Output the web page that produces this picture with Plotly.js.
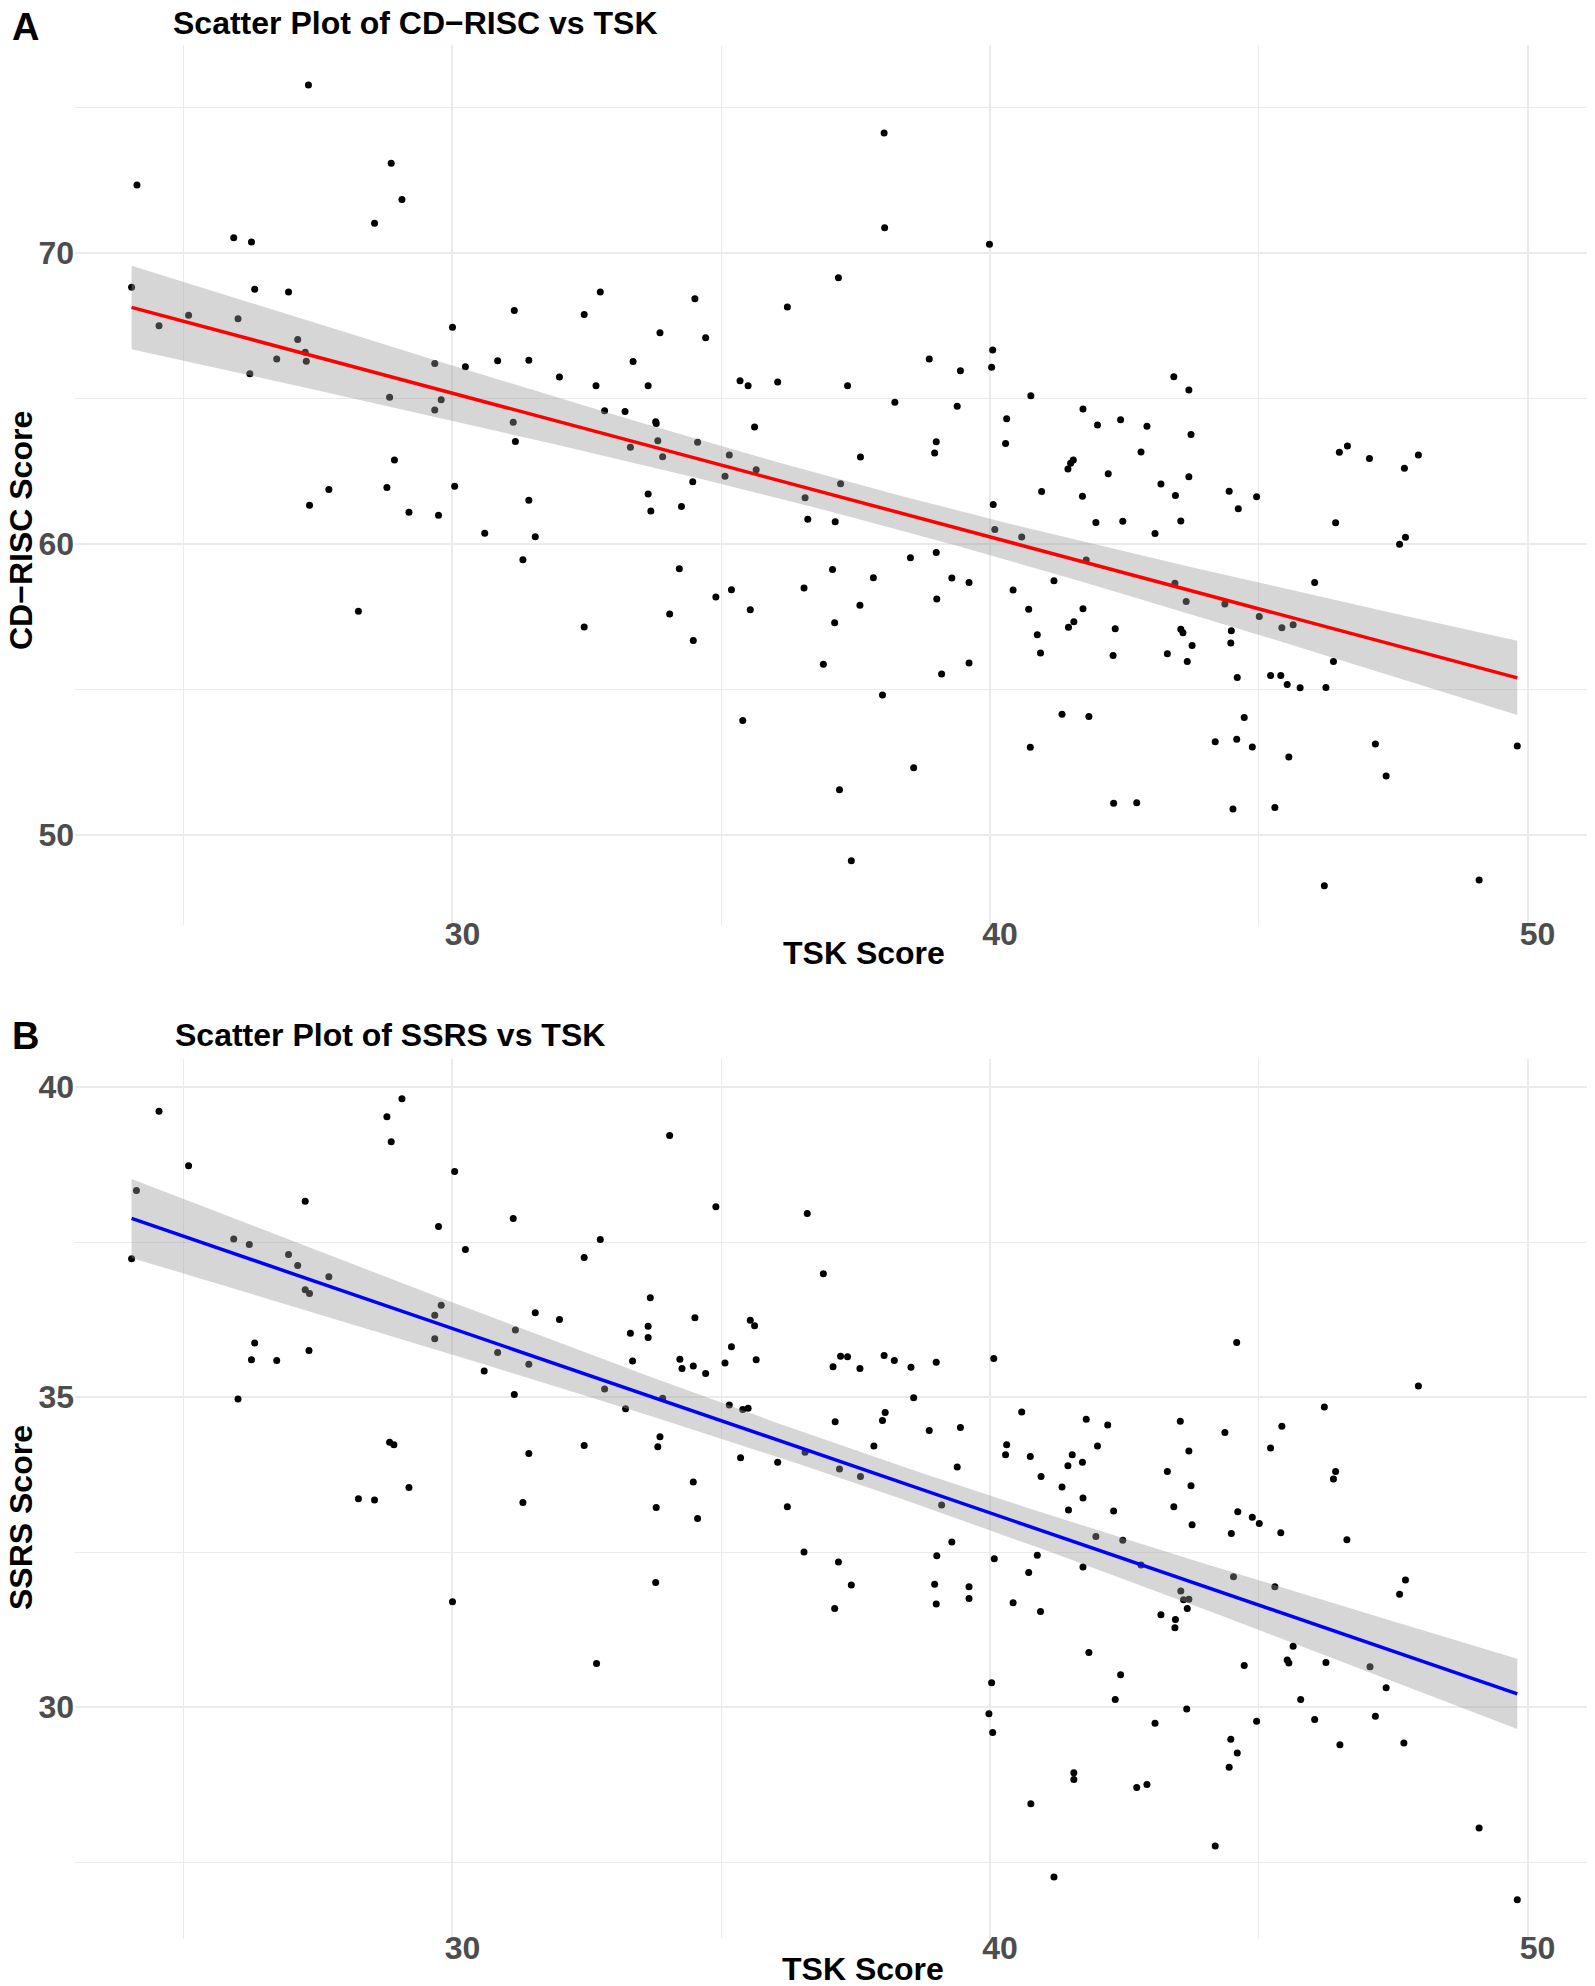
<!DOCTYPE html>
<html>
<head>
<meta charset="utf-8">
<script src="https://cdn.plot.ly/plotly-3.0.1.min.js"></script>
<style>html,body{margin:0;padding:0;background:#fff;}</style>
</head>
<body>
<div id="chart" style="width:1595px;height:1986px;"></div>
<script>
// ---------- Panel A data: TSK vs CD-RISC ----------
const tskA = [
27.32,24.13,28.86,29.06,28.55,25.93,26.26,24.03,26.32,26.95,25.09,26.01,24.54,27.12,27.26,26.73,27.28,26.23,
30.00,29.67,30.24,30.84,31.42,31.15,32.75,32.45,31.99,33.36,32.67,33.64,33.86,34.51,34.71,36.23,35.35,35.50,36.05,
28.83,29.79,29.67,32.83,33.21,31.13,31.17,33.78,33.79,33.82,34.56,33.31,33.91,35.62,35.15,35.65,35.07,34.47,
28.92,27.70,28.78,30.04,33.64,31.42,
27.34,29.19,29.74,30.60,31.54,31.31,28.25,33.69,34.26,32.45,34.22,34.90,35.19,34.04,35.54,34.48,35.40,
38.03,38.04,39.99,37.18,40.05,40.03,38.87,39.45,37.35,38.23,39.39,40.76,40.31,41.73,42.00,42.43,42.92,43.42,43.70,
43.74,40.29,39.00,38.97,37.59,42.81,41.55,41.50,41.45,42.20,43.18,43.45,43.70,44.45,44.96,40.96,41.72,46.50,46.65,
47.06,47.71,47.97,37.22,36.56,
36.61,37.12,44.62,40.06,40.09,40.59,41.97,42.47,43.55,43.07,46.43,47.62,47.73,41.79,36.54,37.07,37.83,38.52,39.00,
39.29,39.61,39.01,37.58,37.11,36.90,38.00,39.10,39.61,37.20,37.42,38.58,40.43,40.72,41.19,41.73,40.88,40.94,41.46,
41.56,42.33,42.29,43.44,43.65,43.55,43.59,43.76,43.30,43.67,44.37,44.49,44.48,45.01,45.43,45.64,46.04,46.39,44.60,
45.22,45.41,45.53,45.77,46.25,41.34,41.84,40.75,44.73,44.19,44.59,44.88,45.56,47.17,47.37,49.81,42.30,42.73,44.52,
45.30,46.22,49.10
];
const cdrisc = [
75.77,72.34,73.08,71.84,71.02,70.52,70.38,68.82,68.75,68.66,67.86,67.74,67.50,67.03,66.59,66.36,66.28,65.85,
67.45,66.20,66.09,66.30,66.31,68.02,68.66,67.89,65.74,66.27,65.44,65.44,67.26,68.43,67.09,68.14,65.61,65.44,65.57,
65.04,64.96,64.60,64.58,64.55,64.18,63.52,64.20,64.14,63.55,63.50,63.32,63.00,64.02,63.06,62.55,62.33,62.14,
62.89,61.87,61.94,61.98,61.72,61.50,
61.33,61.09,60.99,60.37,60.25,59.46,57.69,61.13,61.29,57.15,59.15,58.18,58.43,57.59,57.74,56.68,53.93,
74.12,70.87,70.30,69.15,66.67,66.07,66.36,65.95,65.44,64.87,64.73,65.09,64.30,64.64,64.09,64.27,64.05,65.75,65.29,
63.76,63.45,63.51,63.13,62.99,63.16,62.89,62.77,62.58,62.41,62.06,61.67,62.31,61.81,61.62,61.80,61.64,63.15,63.37,
62.94,62.60,63.06,62.07,61.59,
60.85,60.76,61.21,61.36,60.50,60.24,60.74,60.78,60.79,60.36,60.73,59.99,60.23,59.45,58.49,59.12,58.84,59.53,59.71,
58.83,58.68,58.11,57.89,57.29,55.87,54.81,55.53,55.91,51.55,49.11,52.31,58.42,57.76,58.74,57.77,56.88,56.25,57.14,
57.33,57.09,56.17,58.65,58.02,57.07,56.95,56.51,56.23,55.96,57.94,57.02,56.60,57.51,57.12,57.22,58.68,55.96,55.41,
55.48,55.48,55.17,55.06,55.07,54.15,54.07,53.01,54.04,53.20,53.29,53.02,52.68,53.13,52.03,53.06,51.09,51.11,50.89,
50.94,48.25,48.45
];

// ---------- Panel B data: TSK vs SSRS ----------
const tskB = [
24.54,24.12,24.03,25.09,28.78,29.06,28.86,30.04,27.26,29.74,31.13,34.04,34.90,25.93,26.22,26.95,27.12,27.70,27.26,
27.34,30.24,32.75,32.45,29.79,29.67,29.67,31.54,31.99,31.17,30.84,31.42,30.59,31.15,32.83,33.68,33.64,33.64,33.31,
33.35,34.51,34.23,34.27,34.48,34.71,35.07,35.19,35.54,35.62,35.65,33.91,33.22,35.15,35.40,35.50,26.32,26.26,26.73,
27.33,26.01,28.83,28.91,32.45,31.42,33.86,33.82,35.36,36.05,34.48,29.19,
28.25,28.55,31.31,33.79,34.56,36.23,33.78,30.00,32.68,
36.60,36.90,44.59,37.22,37.35,37.08,37.58,38.03,38.22,38.53,39.00,40.07,38.58,47.97,37.12,38.05,38.00,38.87,39.45,
40.59,41.79,42.19,43.54,44.37,45.43,46.22,36.56,37.84,37.20,37.59,39.39,40.31,40.29,40.75,40.95,41.34,41.45,41.53,
41.72,42.00,43.30,43.70,43.74,45.22,46.43,46.39,
41.73,41.46,42.30,43.42,44.61,44.88,45.01,43.76,44.49,45.41,46.64,39.10,41.97,42.47,42.81,36.54,37.18,37.42,37.11,
39.01,39.29,38.97,39.00,39.61,39.61,40.08,40.88,40.72,40.43,40.94,41.73,44.53,45.30,43.55,43.60,43.70,43.67,43.18,
43.45,43.44,47.73,47.62,45.64,45.53,45.56,46.25,47.07,47.37,44.73,41.84,42.43,42.33,40.03,39.98,40.05,43.66,43.07,
44.96,45.78,46.04,46.51,47.17,47.70,44.48,44.60,44.45,41.56,41.56,42.73,42.92,40.76,44.19,41.19,49.10,49.81
];
const ssrs = [
39.61,38.33,37.23,38.73,39.52,39.81,39.12,38.64,38.16,37.75,37.88,39.22,38.07,37.55,37.46,37.30,37.12,36.94,36.73,
36.67,37.38,37.54,37.25,36.48,36.32,35.94,36.36,36.25,36.08,35.72,35.53,35.42,35.04,35.13,36.60,36.14,35.96,36.03,
35.58,36.28,35.61,35.46,35.50,35.38,35.55,35.81,36.24,36.15,35.60,34.98,34.81,34.87,34.80,34.82,35.87,35.60,35.59,
35.75,34.97,34.27,34.23,34.22,34.09,34.36,34.20,34.02,33.95,33.63,33.54,
33.36,33.34,33.30,33.22,33.04,33.23,32.01,31.70,30.70,
37.96,36.99,35.88,35.66,35.65,35.49,35.46,35.67,35.59,35.48,35.56,35.62,34.99,35.18,34.60,34.75,34.62,34.46,34.51,
34.76,34.64,34.55,34.61,34.43,34.53,34.84,34.11,34.21,33.84,33.72,33.87,34.23,34.07,34.04,33.72,33.55,33.89,34.07,
33.95,34.21,33.80,34.13,33.57,34.18,33.80,33.68,
33.37,33.18,33.16,33.23,33.15,33.06,32.96,32.94,32.80,32.81,32.70,33.26,32.75,32.69,32.29,32.50,32.34,31.97,31.59,
32.44,32.66,31.98,31.66,31.94,31.75,32.39,32.45,32.17,31.68,31.54,32.26,32.10,31.94,31.87,31.73,31.74,31.59,31.49,
31.41,31.28,32.05,31.82,30.98,30.76,30.71,30.72,30.65,30.31,30.67,30.88,30.52,30.12,30.39,29.89,29.59,29.97,29.74,
29.77,30.12,29.80,29.39,29.85,29.42,29.48,29.26,29.03,28.94,28.83,28.70,28.75,28.44,27.76,27.26,28.05,26.89
];

// ---------- Text ----------
const titleA = 'Scatter Plot of CD\u2212RISC vs TSK';
const titleB = 'Scatter Plot of SSRS vs TSK';
const xTitle = 'TSK Score';
const yTitleA = 'CD\u2212RISC Score';
const yTitleB = 'SSRS Score';

// ---------- linear model with 95% confidence band (as geom_smooth(method = "lm")) ----------
function lmBand(x, y) {
  const n = x.length;
  const xm = x.reduce((a, b) => a + b, 0) / n;
  const ym = y.reduce((a, b) => a + b, 0) / n;
  let sxx = 0, sxy = 0;
  for (let i = 0; i < n; i++) { sxx += (x[i] - xm) ** 2; sxy += (x[i] - xm) * (y[i] - ym); }
  const b = sxy / sxx, a = ym - b * xm;
  let sse = 0;
  for (let i = 0; i < n; i++) sse += (y[i] - a - b * x[i]) ** 2;
  const s = Math.sqrt(sse / (n - 2));
  const t = 1.972;
  const lo = Math.min(...x), hi = Math.max(...x);
  const xs = [], fit = [], up = [], dn = [];
  for (let k = 0; k < 80; k++) {
    const xv = lo + (hi - lo) * k / 79;
    const f = a + b * xv;
    const se = s * Math.sqrt(1 / n + (xv - xm) ** 2 / sxx);
    xs.push(xv); fit.push(f); up.push(f + t * se); dn.push(f - t * se);
  }
  return { xs, fit, up, dn };
}

const FONT = 'Liberation Sans, Arial, Helvetica, sans-serif';

function panelTraces(x, y, color, xa, ya) {
  const m = lmBand(x, y);
  return [
    { type: 'scatter', mode: 'markers', x: x, y: y, xaxis: xa, yaxis: ya,
      marker: { size: 7, color: '#000000' }, hoverinfo: 'skip', showlegend: false },
    { type: 'scatter', mode: 'lines', x: m.xs.concat(m.xs.slice().reverse()),
      y: m.up.concat(m.dn.slice().reverse()), xaxis: xa, yaxis: ya,
      fill: 'toself', fillcolor: 'rgba(153,153,153,0.4)', line: { width: 0 },
      hoverinfo: 'skip', showlegend: false },
    { type: 'scatter', mode: 'lines', x: m.xs, y: m.fit, xaxis: xa, yaxis: ya,
      line: { color: color, width: 3.5 }, hoverinfo: 'skip', showlegend: false }
  ];
}

const data = panelTraces(tskA, cdrisc, '#FF0000', 'x', 'y')
  .concat(panelTraces(tskB, ssrs, '#0000FF', 'x2', 'y2'));

const tickFont = { family: FONT, size: 32, color: '#4D4D4D', weight: 'bold' };
const axTitleFont = { family: FONT, size: 32, color: '#000000', weight: 'bold' };

function xAxis(anchor) {
  return {
    anchor: anchor, domain: [0, 1], range: [22.977, 51.107],
    tick0: 0, dtick: 10, ticks: '', showline: false, zeroline: false,
    showgrid: true, gridcolor: '#EBEBEB', gridwidth: 2,
    minor: { tick0: 0, dtick: 5, showgrid: true, gridcolor: '#EBEBEB', gridwidth: 1 },
    tickfont: tickFont, ticklabelshift: 10, ticklabelstandoff: -13,
    automargin: false
  };
}
function yAxis(anchor, domain, range, dtick) {
  return {
    anchor: anchor, domain: domain, range: range,
    tick0: 0, dtick: dtick, ticks: '', showline: false, zeroline: false,
    showgrid: true, gridcolor: '#EBEBEB', gridwidth: 2,
    minor: { tick0: 0, dtick: dtick / 2, showgrid: true, gridcolor: '#EBEBEB', gridwidth: 1 },
    tickfont: tickFont, automargin: false
  };
}

// pixel -> paper helpers (plot area: x 75..1587, y 45..1939)
const px = v => (v - 75) / 1512;
const py = v => (1939 - v) / 1894;

function label(text, x, y, size, extra) {
  return Object.assign({ text: text, xref: 'paper', yref: 'paper', x: px(x), y: py(y),
    xanchor: 'center', yanchor: 'middle', showarrow: false,
    font: { family: FONT, size: size, color: '#000000', weight: 'bold' } }, extra || {});
}

const layout = {
  width: 1595, height: 1986,
  margin: { l: 75, r: 8, t: 45, b: 47, pad: 0 },
  paper_bgcolor: '#FFFFFF', plot_bgcolor: '#FFFFFF',
  showlegend: false,
  font: { family: FONT, color: '#000000' },
  title: {
    text: titleA, xref: 'container', yref: 'container',
    x: 173 / 1595, xanchor: 'left', y: 1 - 22.5 / 1986, yanchor: 'middle',
    font: { family: FONT, size: 32, color: '#000000', weight: 'bold' }
  },
  xaxis: xAxis('y'),
  yaxis: yAxis('x', [0.5354, 1], [46.907, 77.148], 10),
  xaxis2: xAxis('y2'),
  yaxis2: yAxis('x2', [0, 0.4646], [26.258, 40.452], 5),
  annotations: [
    label('A', 10, 26.5, 38, { xanchor: 'left' }),
    label('B', 10, 1035.5, 38, { xanchor: 'left' }),
    label(titleB, 173, 1035, 32, { xanchor: 'left' }),
    label(xTitle, 864, 953, 32),
    label(xTitle, 863, 1969, 32),
    label(yTitleA, 21, 531, 32, { textangle: -90 }),
    label(yTitleB, 21, 1518, 32, { textangle: -90 })
  ]
};

Plotly.newPlot('chart', data, layout, { staticPlot: true, displayModeBar: false });
</script>
</body>
</html>
